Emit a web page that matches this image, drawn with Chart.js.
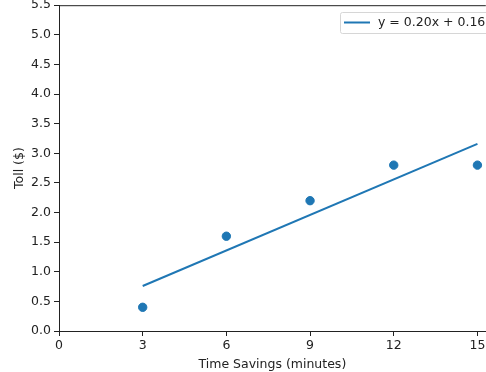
<!DOCTYPE html>
<html>
<head>
<meta charset="utf-8">
<script src="https://cdn.jsdelivr.net/npm/chart.js@4/dist/chart.umd.min.js"></script>
<style>
  body { margin: 0; background: #fff; }
  /* the figure is cropped on the right, like the reference */
  #wrap { width: 486px; height: 372px; overflow: hidden; }
</style>
</head>
<body>
<div id="wrap"><canvas id="tollChart" width="491" height="372"></canvas></div>
<script>
// Observed data: time savings (minutes) vs toll ($)
const timeSavings = [3, 6, 9, 12, 15];
const tolls = [0.4, 1.6, 2.2, 2.8, 2.8];

// Fitted line endpoints
const fitX = [3, 15];
const fitY = [0.76, 3.16];
const fitLabel = "y = 0.20x + 0.16";

// Tick labels
const xTicks = [0, 3, 6, 9, 12, 15];
const yTicks = [0, 0.5, 1, 1.5, 2, 2.5, 3, 3.5, 4, 4.5, 5, 5.5];

const blue = "#1f77b4";
const ink = "#222";
const fontFamily = "'DejaVu Sans', sans-serif";
const fontSize = 12.5;

// Draws the top spine and the matplotlib style legend box
const frameAndLegend = {
    id: "frameAndLegend",
    afterDraw(chart) {
        const ctx = chart.ctx;
        const area = chart.chartArea;
        ctx.save();
        ctx.strokeStyle = ink;
        ctx.lineWidth = 1;
        ctx.beginPath();
        ctx.moveTo(area.left, area.top + 0.5);
        ctx.lineTo(area.right, area.top + 0.5);
        ctx.stroke();

        // legend
        const bx = 340.5, by = 12.5, bw = 150, bh = 21;
        ctx.fillStyle = "rgba(255,255,255,0.8)";
        ctx.strokeStyle = "#d6d6d6";
        ctx.beginPath();
        ctx.roundRect(bx, by, bw, bh, 2);
        ctx.fill();
        ctx.stroke();
        ctx.strokeStyle = blue;
        ctx.lineWidth = 2;
        ctx.beginPath();
        ctx.moveTo(344, 22.5);
        ctx.lineTo(370, 22.5);
        ctx.stroke();
        ctx.fillStyle = ink;
        ctx.font = fontSize + "px " + fontFamily;
        ctx.textBaseline = "middle";
        ctx.fillText(fitLabel, 378, 23);
        ctx.restore();
    }
};

new Chart(document.getElementById("tollChart"), {
    type: "scatter",
    data: {
        datasets: [
            {
                label: fitLabel,
                type: "line",
                data: fitX.map((x, i) => ({ x: x, y: fitY[i] })),
                borderColor: blue,
                borderWidth: 2,
                pointRadius: 0,
                fill: false
            },
            {
                label: "data",
                data: timeSavings.map((x, i) => ({ x: x, y: tolls[i] })),
                backgroundColor: blue,
                borderColor: blue,
                pointRadius: 4.2,
                pointHoverRadius: 4.2
            }
        ]
    },
    options: {
        responsive: false,
        animation: false,
        layout: { padding: { top: 5, right: 0, left: 0, bottom: 0 } },
        plugins: {
            legend: { display: false },
            tooltip: { enabled: false }
        },
        scales: {
            x: {
                type: "linear",
                min: 0,
                max: 15.3,
                afterBuildTicks: scale => { scale.ticks = xTicks.map(v => ({ value: v })); },
                afterFit: scale => { scale.height = 41; scale.paddingLeft = 0; scale.paddingRight = 0; },
                grid: { drawOnChartArea: false, color: ink, tickLength: 5, tickWidth: 1 },
                border: { color: ink, width: 1 },
                ticks: { color: ink, padding: 2, font: { family: fontFamily, size: fontSize }, maxRotation: 0 },
                title: { display: true, text: "Time Savings (minutes)", color: ink, padding: { top: 0, bottom: 0 }, font: { family: fontFamily, size: fontSize } }
            },
            y: {
                type: "linear",
                min: 0,
                max: 5.5,
                afterBuildTicks: scale => { scale.ticks = yTicks.map(v => ({ value: v })); },
                afterFit: scale => { scale.width = 59; scale.paddingTop = 0; scale.paddingBottom = 0; },
                grid: { drawOnChartArea: false, color: ink, tickLength: 5, tickWidth: 1 },
                border: { color: ink, width: 1 },
                ticks: { color: ink, padding: 3, font: { family: fontFamily, size: fontSize }, callback: v => v.toFixed(1) },
                title: { display: true, text: "Toll ($)", color: ink, padding: { top: 12, bottom: 0 }, font: { family: fontFamily, size: fontSize } }
            }
        }
    },
    plugins: [frameAndLegend]
});
</script>
</body>
</html>
